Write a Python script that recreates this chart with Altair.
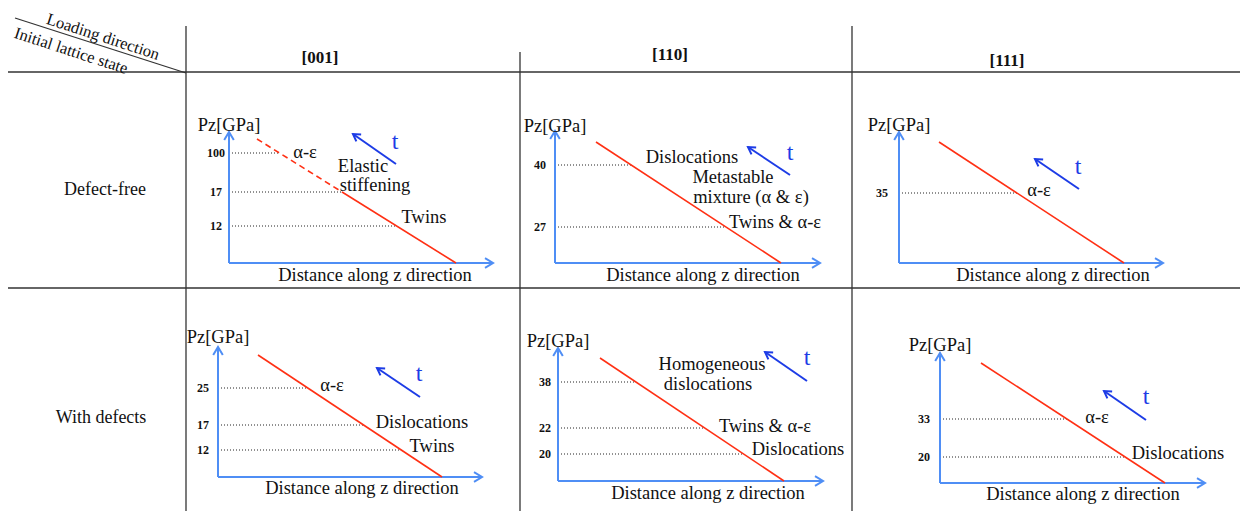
import math
import altair as alt
import pandas as pd

# ---------------- content ----------------
col_headers = ["[001]", "[110]", "[111]"]
row_headers = ["Defect-free", "With defects"]
corner_upper = "Loading direction"
corner_lower = "Initial lattice state"
y_axis_title = "Pz[GPa]"
x_axis_title = "Distance along z direction"
time_label = "t"

panel_thresholds = [[100, 17, 12], [40, 27], [35], [25, 17, 12], [38, 22, 20], [33, 20]]
panel_notes = [
    ["α-ε", "Elastic", "stiffening", "Twins"],
    ["Dislocations", "Metastable", "mixture (α & ε)", "Twins & α-ε"],
    ["α-ε"],
    ["α-ε", "Dislocations", "Twins"],
    ["Homogeneous", "dislocations", "Twins & α-ε", "Dislocations"],
    ["α-ε", "Dislocations"],
]
# threshold index at which the shock front turns from dashed to solid (-1: all solid)
dashed_until = [1, -1, -1, -1, -1, -1]

# ---------------- layout (schematic pixel positions) ----------------
header_xy = [(320, 58), (670, 55), (1007, 61)]
row_label_xy = [(105, 190), (101, 418)]
corner_upper_xy = (103, 37)
corner_lower_xy = (71, 51)
grid_lines = [(5, 72, 1243, 72), (8, 288, 1243, 288), (186, 26, 186, 517),
              (520, 52, 520, 517), (852, 26, 852, 517), (15, 18, 186, 73)]

axis_origin_x = [229, 555, 899, 218, 558, 940]
axis_origin_y = [263, 263, 263, 477, 481, 483]
axis_top_y = [132, 131, 132, 347, 348, 353]
axis_end_x = [493, 820, 1163, 482, 823, 1205]
front_start = [(257, 139), (596, 142), (939, 142), (258, 355), (600, 358), (981, 363)]
front_end_x = [456, 781, 1124, 442, 784, 1165]
level_y = [[153, 192, 226], [165, 227], [193], [388, 425, 450], [382, 428, 454], [419, 457]]
tick_label_x = [216, 540, 882, 203, 545, 924]
ytitle_y = [125, 126, 125, 337, 341, 345]
xtitle_xy = [(375, 275), (703, 275), (1053, 275), (362, 488), (708, 493), (1083, 494)]
note_xy = [
    [(305, 152), (363, 166), (375, 185), (424, 217)],
    [(692, 157), (733, 177), (751, 197), (775, 222)],
    [(1039, 190)],
    [(332, 385), (422, 422), (432, 446)],
    [(712, 364), (708, 384), (765, 426), (798, 449)],
    [(1097, 417), (1178, 453)],
]
time_tail = [(396, 164), (790, 175), (1079, 189), (420, 397), (807, 381), (1146, 420)]
time_tip = [(353, 134), (748, 147), (1035, 159), (377, 368), (765, 352), (1104, 391)]
time_label_xy = [(395, 142), (790, 153), (1078, 167), (419, 374), (807, 358), (1146, 397)]

SERIF = "Liberation Serif"
AXIS_BLUE = "#4f8ef5"
TIME_BLUE = "#1d3ce6"
RED = "#ff3014"
GRID = "#333333"
CHEVRON = "M-1,-0.6L0,0L-1,0.6"

# ---------------- build tables ----------------
grid_df = pd.DataFrame(grid_lines, columns=["x", "y", "x2", "y2"])

axis_rows, head_rows, solid_rows, dash_rows, dot_rows, tick_rows = [], [], [], [], [], []
title_rows, note_rows, time_rows, time_head_rows, tlabel_rows = [], [], [], [], []
for i in range(6):
    ox, oy, yt, xe = axis_origin_x[i], axis_origin_y[i], axis_top_y[i], axis_end_x[i]
    axis_rows.append(dict(x=ox, y=oy, x2=ox, y2=yt))
    axis_rows.append(dict(x=ox, y=oy, x2=xe, y2=oy))
    head_rows.append(dict(x=ox, y=yt, ang=270))
    head_rows.append(dict(x=xe, y=oy, ang=0))
    sx, sy = front_start[i]
    ex, ey = front_end_x[i], oy

    def front_x(yy):
        return sx + (yy - sy) / (ey - sy) * (ex - sx)

    if dashed_until[i] >= 0:
        by = level_y[i][dashed_until[i]]
        dash_rows.append(dict(x=sx, y=sy, x2=front_x(by), y2=by))
        solid_rows.append(dict(x=front_x(by), y=by, x2=ex, y2=ey))
    else:
        solid_rows.append(dict(x=sx, y=sy, x2=ex, y2=ey))
    for v, ly in zip(panel_thresholds[i], level_y[i]):
        dot_rows.append(dict(x=ox, y=ly, x2=front_x(ly), y2=ly))
        tick_rows.append(dict(x=tick_label_x[i], y=ly, text=str(v)))
    title_rows.append(dict(x=ox, y=ytitle_y[i], text=y_axis_title))
    title_rows.append(dict(x=xtitle_xy[i][0], y=xtitle_xy[i][1], text=x_axis_title))
    for t, (nx, ny) in zip(panel_notes[i], note_xy[i]):
        note_rows.append(dict(x=nx, y=ny, text=t))
    (tx, ty), (hx, hy) = time_tail[i], time_tip[i]
    time_rows.append(dict(x=tx, y=ty, x2=hx, y2=hy))
    ang = math.degrees(math.atan2(hy - ty, hx - tx)) % 360
    time_head_rows.append(dict(x=hx, y=hy, ang=ang))
    tlabel_rows.append(dict(x=time_label_xy[i][0], y=time_label_xy[i][1], text=time_label))

header_df = pd.DataFrame([dict(x=x, y=y, text=t) for t, (x, y) in zip(col_headers, header_xy)])
rowlab_df = pd.DataFrame([dict(x=x, y=y, text=t) for t, (x, y) in zip(row_headers, row_label_xy)])
corner_df = pd.DataFrame([
    dict(x=corner_upper_xy[0], y=corner_upper_xy[1], text=corner_upper),
    dict(x=corner_lower_xy[0], y=corner_lower_xy[1], text=corner_lower),
])

# ---------------- scales ----------------
W, H = 1232, 503
xs = alt.Scale(domain=[8, 8 + W], zero=False, nice=False)
ys = alt.Scale(domain=[8, 8 + H], zero=False, nice=False, reverse=True)
X = alt.X("x:Q", scale=xs, axis=None)
Y = alt.Y("y:Q", scale=ys, axis=None)
X2 = alt.X2("x2:Q")
Y2 = alt.Y2("y2:Q")


def segs(rows, **kw):
    return alt.Chart(pd.DataFrame(rows)).mark_rule(**kw).encode(x=X, y=Y, x2=X2, y2=Y2)


def texts(df, **kw):
    return alt.Chart(df).mark_text(**kw).encode(x=X, y=Y, text="text:N")


layers = [
    alt.Chart(grid_df).mark_rule(color=GRID, strokeWidth=1.3).encode(x=X, y=Y, x2=X2, y2=Y2),
    segs(dot_rows, color="#222222", strokeWidth=1, strokeDash=[1, 2]),
    segs(axis_rows, color=AXIS_BLUE, strokeWidth=2),
    alt.Chart(pd.DataFrame(head_rows)).mark_point(
        shape=CHEVRON, size=256, filled=False, color=AXIS_BLUE, strokeWidth=2, opacity=1
    ).encode(x=X, y=Y, angle=alt.Angle("ang:Q", scale=None)),
    segs(solid_rows, color=RED, strokeWidth=1.6),
    segs(dash_rows, color=RED, strokeWidth=1.6, strokeDash=[6, 4]),
    segs(time_rows, color=TIME_BLUE, strokeWidth=2),
    alt.Chart(pd.DataFrame(time_head_rows)).mark_point(
        shape=CHEVRON, size=196, filled=False, color=TIME_BLUE, strokeWidth=2, opacity=1
    ).encode(x=X, y=Y, angle=alt.Angle("ang:Q", scale=None)),
    texts(pd.DataFrame(tick_rows), font=SERIF, fontSize=12, fontWeight="bold", color="#111111",
          align="center", baseline="middle"),
    texts(pd.DataFrame(title_rows), font=SERIF, fontSize=18.5, color="#111111",
          align="center", baseline="middle"),
    texts(pd.DataFrame(note_rows), font=SERIF, fontSize=18.5, color="#111111",
          align="center", baseline="middle"),
    texts(pd.DataFrame(tlabel_rows), font=SERIF, fontSize=24, color=TIME_BLUE,
          align="center", baseline="middle"),
    texts(header_df, font=SERIF, fontSize=17, fontWeight="bold", color="#111111",
          align="center", baseline="middle"),
    texts(rowlab_df, font=SERIF, fontSize=18, color="#111111",
          align="center", baseline="middle"),
    texts(corner_df, font=SERIF, fontSize=16.5, color="#111111",
          align="center", baseline="middle", angle=18),
]

chart = alt.layer(*layers).properties(
    width=W, height=H, padding=0, autosize=alt.AutoSizeParams(type="none"), background="white"
).configure_view(stroke=None)

chart.save("out.html", embed_options={"renderer": "svg", "actions": False})
